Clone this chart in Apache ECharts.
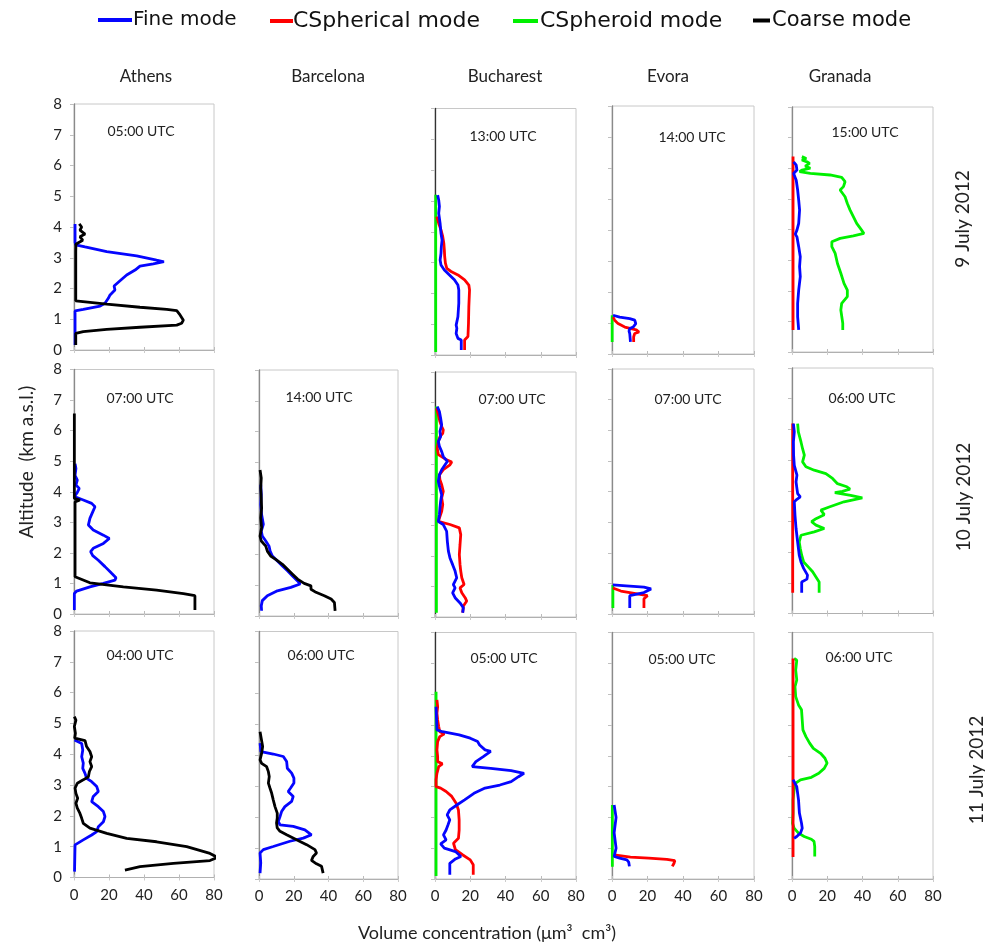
<!DOCTYPE html>
<html><head><meta charset="utf-8">
<script src="https://cdn.jsdelivr.net/npm/echarts@6/dist/echarts.min.js"></script>
<style>html,body{margin:0;padding:0;background:#fff}#c{width:985px;height:945px}</style>
</head><body><div id="c"></div>
<script>
// ---------- labels ----------
const cities = ['Athens', 'Barcelona', 'Bucharest', 'Evora', 'Granada'];
const dates = ['9 July 2012', '10 July 2012', '11 July 2012'];
const modes = ['Fine mode', 'CSpherical mode', 'CSpheroid mode', 'Coarse mode'];
const xTickValues = [0, 20, 40, 60, 80];
const yTickValues = [0, 1, 2, 3, 4, 5, 6, 7, 8];
const yAxisTitle = 'Altitude  (km a.s.l.)';
const xAxisTitle = 'Volume concentration (\u03bcm\u00b3  cm\u00b3)';

// ---------- data: [volume concentration, altitude km] ----------
// 9 July 2012
const athens9Time = '05:00 UTC';
const athens9Fine = [[0.6,4.1],[0.6,3.5],[1.0,3.42],[6.3,3.35],[18.7,3.2],[35.8,3.06],[47.2,2.92],[51.4,2.87],[45.3,2.8],[37.7,2.73],[34.9,2.6],[35.8,2.54],[30.1,2.44],[26.3,2.25],[22.9,2.08],[23.4,1.95],[20.6,1.79],[19.6,1.68],[17.7,1.52],[14.9,1.43],[5.3,1.32],[0.6,1.27],[0.6,0.16]];
const athens9Coarse = [[3.0,4.1],[4.4,4.0],[3.4,3.9],[6.3,3.77],[3.4,3.68],[5.0,3.57],[2.5,3.49],[1.1,3.44],[1.0,3.2],[1.0,1.6],[18.7,1.49],[37.7,1.39],[53.0,1.32],[58.7,1.28],[60.6,1.14],[62.5,0.97],[61.5,0.87],[58.7,0.81],[37.7,0.74],[18.7,0.67],[5.3,0.6],[1.0,0.54],[1.0,0.16]];

const bucharest9Time = '13:00 UTC';
const bucharest9Fine = [[1.5,5.19],[2.1,5.03],[2.5,4.82],[2.1,4.6],[2.9,4.27],[3.4,3.95],[4.0,3.73],[3.6,3.52],[3.4,3.3],[2.9,3.08],[3.4,2.92],[5.3,2.76],[8.2,2.6],[11.0,2.44],[13.0,2.27],[13.5,2.11],[13.5,1.68],[13.0,1.24],[12.0,0.97],[12.4,0.87],[12.0,0.7],[13.0,0.54],[14.9,0.49],[14.9,0.16]];
const bucharest9Spherical = [[1.0,4.49],[2.1,4.27],[3.4,4.06],[4.4,3.84],[5.0,3.63],[5.3,3.41],[5.5,3.19],[5.9,2.98],[6.7,2.81],[9.1,2.71],[13.0,2.6],[16.8,2.44],[19.2,2.27],[19.6,2.11],[19.2,1.57],[19.0,1.03],[18.7,0.6],[16.8,0.49],[16.8,0.16]];
const bucharest9Spheroid = [[0.4,5.2],[0.4,0.1]];

const evora9Time = '14:00 UTC';
const evora9Fine = [[0.6,1.25],[4.3,1.19],[10.0,1.14],[12.8,1.09],[13.4,0.98],[11.9,0.87],[10.0,0.82],[9.6,0.74],[10.0,0.66],[10.4,0.39]];
const evora9Spherical = [[0.6,1.19],[1.5,1.09],[3.4,0.98],[7.2,0.87],[13.7,0.78],[15.2,0.71],[12.8,0.66],[12.2,0.55],[12.2,0.39]];
const evora9Spheroid = [[0.1,1.25],[0.1,0.39]];

const granada9Time = '15:00 UTC';
const granada9Fine = [[0.9,6.21],[2.4,6.1],[2.8,5.94],[0.9,5.83],[2.4,5.61],[3.2,5.29],[3.8,4.96],[4.3,4.64],[3.8,4.2],[2.8,3.98],[1.9,3.85],[2.8,3.76],[3.8,3.44],[4.7,3.11],[4.3,2.79],[4.7,2.46],[3.8,2.02],[3.2,1.59],[3.2,1.15],[3.8,0.72]];
const granada9Spherical = [[0.6,6.38],[0.6,0.72]];
const granada9Spheroid = [[5.6,6.38],[8.1,6.32],[5.6,6.27],[8.5,6.21],[10.0,6.16],[7.5,6.07],[10.4,6.0],[5.6,5.94],[4.3,5.89],[10.4,5.83],[21.6,5.78],[28.2,5.7],[30.1,5.56],[29.2,5.4],[27.3,5.29],[30.1,5.07],[31.4,4.85],[32.9,4.64],[34.8,4.42],[36.7,4.2],[39.5,3.98],[40.8,3.87],[34.8,3.79],[27.3,3.71],[22.6,3.6],[22.6,3.44],[24.5,3.22],[25.8,2.89],[27.7,2.57],[29.5,2.24],[31.4,2.02],[31.4,1.81],[28.2,1.59],[27.7,1.37],[28.8,0.94],[28.8,0.72]];

// 10 July 2012
const athens10Time = '07:00 UTC';
const athens10Fine = [[0.6,4.92],[1.1,4.76],[0.6,4.54],[1.9,4.38],[1.1,4.22],[3.0,4.11],[1.9,3.98],[0.2,3.84],[5.3,3.73],[10.1,3.62],[12.0,3.51],[10.7,3.34],[9.1,3.13],[8.2,2.91],[11.0,2.75],[16.8,2.58],[20.2,2.47],[16.8,2.31],[11.0,2.15],[9.5,2.04],[10.7,1.91],[13.9,1.76],[17.7,1.55],[21.5,1.33],[24.0,1.19],[23.4,1.11],[16.8,1.0],[9.1,0.89],[1.5,0.75],[0.2,0.67],[0.2,0.13]];
const athens10Coarse = [[0.2,6.56],[0.2,3.78],[3.4,3.73],[0.6,3.67],[0.6,1.22],[9.1,1.02],[28.2,0.89],[47.2,0.78],[62.5,0.67],[69.1,0.6],[69.1,0.13]];

const barcelona10Time = '14:00 UTC';
const barcelona10Fine = [[1.0,4.27],[1.3,3.95],[1.0,3.62],[1.5,3.3],[2.5,2.98],[1.3,2.76],[1.9,2.6],[3.9,2.44],[5.8,2.27],[6.4,2.11],[7.7,1.95],[10.6,1.79],[13.5,1.63],[16.4,1.47],[19.3,1.3],[22.2,1.14],[23.7,1.04],[18.3,0.93],[10.6,0.82],[4.8,0.66],[1.9,0.5],[1.3,0.33],[1.5,0.17]];
const barcelona10Coarse = [[0.6,4.75],[1.3,4.49],[1.0,4.16],[1.3,3.84],[1.5,3.51],[1.0,3.19],[1.5,2.87],[0.6,2.6],[1.3,2.44],[3.9,2.27],[4.8,2.11],[6.7,1.95],[9.6,1.84],[13.5,1.68],[16.4,1.52],[19.3,1.36],[22.2,1.2],[26.0,1.06],[29.9,0.98],[29.9,0.87],[32.8,0.77],[37.6,0.66],[41.5,0.55],[43.4,0.44],[43.8,0.17]];

const bucharest10Time = '07:00 UTC';
const bucharest10Fine = [[1.3,6.87],[2.5,6.71],[3.2,6.49],[3.8,6.27],[2.8,6.06],[3.2,5.89],[1.9,5.73],[2.5,5.57],[3.8,5.4],[4.7,5.24],[7.0,5.08],[5.7,4.97],[3.8,4.81],[2.5,4.64],[1.9,4.43],[2.8,4.21],[3.8,3.99],[3.2,3.78],[2.8,3.56],[2.5,3.34],[1.9,3.12],[4.7,3.02],[6.6,2.8],[7.0,2.47],[7.6,2.15],[8.5,1.93],[10.0,1.71],[11.4,1.5],[12.3,1.28],[10.4,1.06],[11.4,0.95],[10.0,0.79],[11.4,0.63],[14.2,0.46],[16.1,0.3],[15.7,0.14]];
const bucharest10Spherical = [[0.9,6.82],[1.9,6.6],[2.8,6.38],[3.8,6.22],[4.7,6.11],[4.4,6.0],[2.8,5.89],[1.9,5.73],[1.3,5.51],[1.9,5.3],[6.6,5.13],[9.5,5.06],[8.5,4.97],[4.7,4.81],[2.5,4.64],[2.8,4.48],[3.8,4.32],[4.7,4.1],[3.8,3.89],[4.4,3.67],[3.8,3.45],[2.5,3.23],[1.9,3.12],[8.5,3.02],[13.8,2.91],[14.6,2.69],[14.2,2.36],[13.8,2.04],[14.2,1.71],[14.6,1.5],[15.2,1.28],[16.5,1.06],[14.2,0.95],[15.2,0.79],[17.1,0.63],[18.0,0.52],[16.1,0.36],[15.7,0.14]];
const bucharest10Spheroid = [[0.8,6.87],[0.8,0.14]];

const evora10Time = '07:00 UTC';
const evora10Fine = [[0.5,0.95],[8,0.92],[18,0.88],[22,0.82],[18,0.7],[10,0.6],[10,0.2]];
const evora10Spherical = [[0.5,0.85],[5,0.75],[15,0.65],[20,0.6],[18,0.5],[18,0.2]];
const evora10Spheroid = [[0.5,0.95],[0.5,0.2]];

const granada10Time = '06:00 UTC';
const granada10Fine = [[0.8,6.19],[1.3,5.92],[0.8,5.59],[0.9,5.16],[1.3,4.83],[2.8,4.51],[2.3,4.29],[2.8,4.07],[3.2,3.91],[4.7,3.8],[2.8,3.72],[1.3,3.64],[1.7,3.2],[2.3,2.77],[3.2,2.33],[4.1,1.9],[5.1,1.68],[6.6,1.47],[8.8,1.25],[8.5,1.12],[5.5,1.03],[5.5,0.68]];
const granada10Spherical = [[0.4,6.19],[0.4,0.68]];
const granada10Spheroid = [[3.2,6.19],[3.6,5.92],[5.1,5.59],[6.0,5.37],[7.0,5.16],[6.0,4.94],[7.9,4.78],[12.6,4.67],[19.2,4.56],[23.0,4.4],[25.8,4.23],[31.1,4.13],[32.9,4.05],[28.6,3.98],[24.3,3.94],[33.3,3.85],[39.9,3.77],[29.5,3.64],[21.1,3.47],[16.4,3.37],[18.3,3.22],[13.6,3.09],[11.1,2.99],[13.6,2.88],[18.3,2.77],[12.6,2.66],[5.1,2.55],[4.1,2.33],[4.7,2.12],[5.5,1.9],[6.6,1.68],[9.2,1.52],[11.7,1.36],[13.6,1.19],[15.4,1.03],[15.4,0.68]];

// 11 July 2012
const athens11Time = '04:00 UTC';
const athens11Fine = [[0.3,4.46],[4.4,4.35],[5.0,4.14],[4.4,3.92],[5.3,3.71],[5.0,3.54],[6.3,3.38],[7.2,3.22],[10.1,3.11],[13.0,2.95],[13.9,2.79],[11.0,2.63],[10.1,2.46],[13.9,2.3],[16.8,2.14],[17.7,1.98],[16.8,1.81],[13.9,1.65],[13.0,1.49],[10.1,1.38],[5.3,1.22],[0.6,1.06],[0.3,1.0],[0.3,0.19]];
const athens11Coarse = [[0.2,5.22],[1.1,5.11],[0.2,4.9],[0.8,4.68],[0.4,4.52],[6.3,4.44],[7.2,4.25],[9.1,4.09],[10.1,3.92],[9.1,3.76],[10.1,3.6],[8.8,3.44],[8.2,3.27],[5.3,3.17],[1.9,3.06],[0.6,2.9],[1.1,2.73],[2.1,2.57],[1.1,2.41],[1.9,2.25],[3.4,2.08],[4.4,1.92],[5.3,1.76],[9.1,1.6],[18.7,1.43],[30.1,1.27],[47.2,1.16],[64.4,1.0],[77.7,0.78],[82,0.65],[77.7,0.55],[56.8,0.46],[37.7,0.35],[29.1,0.24]];

const barcelona11Time = '06:00 UTC';
const barcelona11Fine = [[0.6,4.39],[1.1,4.12],[2.1,4.06],[8.2,4.04],[14.0,3.96],[15.9,3.8],[16.3,3.58],[18.8,3.42],[20.1,3.26],[20.1,3.1],[18.2,2.94],[16.8,2.83],[19.7,2.67],[18.8,2.51],[14.9,2.34],[13.0,2.18],[12.1,2.02],[11.1,1.86],[12.1,1.75],[19.7,1.7],[26.4,1.59],[30.2,1.43],[25.5,1.32],[17.8,1.22],[8.2,1.05],[2.5,0.95],[0.6,0.84],[1.0,0.52],[0.6,0.19]];
const barcelona11Coarse = [[0.6,4.76],[2.1,4.28],[1.5,4.06],[0.6,3.85],[1.5,3.74],[4.4,3.63],[5.4,3.47],[5.9,3.31],[5.4,3.1],[6.3,2.94],[7.3,2.77],[8.2,2.56],[9.2,2.34],[10.5,2.13],[10.5,1.97],[10.1,1.81],[10.5,1.65],[12.1,1.54],[15.9,1.43],[21.6,1.27],[27.4,1.11],[32.2,0.95],[33.1,0.84],[31.2,0.73],[30.2,0.6],[33.1,0.49],[36.0,0.41],[36.9,0.19]];

const bucharest11Time = '05:00 UTC';
const bucharest11Fine = [[0.6,5.59],[1.1,4.84],[4.2,4.78],[13.7,4.68],[20.0,4.57],[24.2,4.46],[25.3,4.35],[28.4,4.19],[31.6,4.14],[27.4,3.97],[23.2,3.81],[21.1,3.65],[31.6,3.59],[43.2,3.52],[50.5,3.43],[47.4,3.32],[43.2,3.16],[36.8,3.05],[28.4,2.95],[22.1,2.78],[16.8,2.57],[12.6,2.41],[8.4,2.24],[6.9,2.08],[8.4,1.92],[7.4,1.76],[6.3,1.59],[4.8,1.43],[6.3,1.27],[3.2,1.14],[5.3,1.0],[11.6,0.89],[14.7,0.73],[11.6,0.65],[8.4,0.51],[8.4,0.14]];
const bucharest11Spherical = [[1.1,5.81],[1.5,5.59],[1.1,5.38],[1.5,5.16],[2.1,4.95],[2.7,4.78],[5.3,4.71],[2.7,4.62],[1.5,4.46],[1.1,4.19],[1.5,3.97],[1.5,3.81],[4.2,3.74],[2.1,3.65],[1.1,3.43],[0.6,3.22],[0.6,3.0],[3.2,2.95],[6.3,2.84],[9.5,2.68],[12.0,2.46],[13.3,2.24],[13.7,1.92],[13.7,1.59],[13.3,1.32],[10.5,1.16],[11.6,0.95],[15.8,0.78],[20.0,0.62],[21.7,0.46],[21.7,0.14]];
const bucharest11Spheroid = [[0.6,6.08],[0.6,0.1]];

const evora11Time = '05:00 UTC';
const evora11Fine = [[1.2,2.4],[2.3,2.0],[1.2,1.5],[2.3,1.0],[1.2,0.73],[4.3,0.68],[8.4,0.62],[9.4,0.55],[9.8,0.41]];
const evora11Spherical = [[1.2,0.78],[10.4,0.71],[20.7,0.68],[30.9,0.64],[35.4,0.6],[35.0,0.52],[34.0,0.41]];
const evora11Spheroid = [[0.2,2.4],[0.2,0.4]];

const granada11Time = '06:00 UTC';
const granada11Fine = [[0.6,3.22],[1.7,3.16],[2.7,3.0],[3.7,2.57],[4.2,2.14],[5.4,1.81],[5.8,1.65],[4.8,1.49],[2.7,1.38],[1.2,1.32]];
const granada11Spherical = [[0.6,7.16],[0.6,0.71]];
const granada11Spheroid = [[1.2,7.16],[2.7,7.1],[2.1,6.78],[2.7,6.46],[1.7,6.24],[2.1,5.92],[3.7,5.65],[5.4,5.49],[5.8,5.16],[6.2,4.84],[7.9,4.62],[10.0,4.41],[12.1,4.24],[16.2,4.08],[18.7,3.92],[19.9,3.76],[18.3,3.59],[15.2,3.43],[11.0,3.3],[4.8,3.22],[2.1,3.11],[1.2,2.89],[0.6,2.57],[0.6,2.14],[0.3,1.81],[1.2,1.65],[3.7,1.49],[6.9,1.38],[11.0,1.29],[12.5,1.22],[12.9,1.05],[12.9,0.73]];

// ---------- panels (row = date index, col = city index) ----------
const panels = [
  {row:0, col:0, time:athens9Time, fine:athens9Fine, coarse:athens9Coarse},
  {row:0, col:2, time:bucharest9Time, fine:bucharest9Fine, spherical:bucharest9Spherical, spheroid:bucharest9Spheroid},
  {row:0, col:3, time:evora9Time, fine:evora9Fine, spherical:evora9Spherical, spheroid:evora9Spheroid},
  {row:0, col:4, time:granada9Time, fine:granada9Fine, spherical:granada9Spherical, spheroid:granada9Spheroid},
  {row:1, col:0, time:athens10Time, fine:athens10Fine, coarse:athens10Coarse},
  {row:1, col:1, time:barcelona10Time, fine:barcelona10Fine, coarse:barcelona10Coarse},
  {row:1, col:2, time:bucharest10Time, fine:bucharest10Fine, spherical:bucharest10Spherical, spheroid:bucharest10Spheroid},
  {row:1, col:3, time:evora10Time, fine:evora10Fine, spherical:evora10Spherical, spheroid:evora10Spheroid},
  {row:1, col:4, time:granada10Time, fine:granada10Fine, spherical:granada10Spherical, spheroid:granada10Spheroid},
  {row:2, col:0, time:athens11Time, fine:athens11Fine, coarse:athens11Coarse},
  {row:2, col:1, time:barcelona11Time, fine:barcelona11Fine, coarse:barcelona11Coarse},
  {row:2, col:2, time:bucharest11Time, fine:bucharest11Fine, spherical:bucharest11Spherical, spheroid:bucharest11Spheroid},
  {row:2, col:3, time:evora11Time, fine:evora11Fine, spherical:evora11Spherical, spheroid:evora11Spheroid},
  {row:2, col:4, time:granada11Time, fine:granada11Fine, spherical:granada11Spherical, spheroid:granada11Spheroid}
];

// ---------- layout (pixels) ----------
const colLeft = [74, 259, 435, 612, 792];
const colRight = [214, 398, 576, 754, 933];
// panel vertical extents (top = 8 km, bottom = 0 km), in panel order
const panelTop =    [104, 108.5, 106, 107,   369.5, 370, 372, 369, 368,   631, 631.5, 632.5, 632.5, 632.5];
const panelBottom = [350, 355,   354, 352,   614,   616, 617, 614, 613.5, 877.5, 879, 879, 879, 879];
// centre of the time annotation in each panel
const timeLabelX = [141, 503, 692, 865,   140, 319, 512, 688, 862,   140, 321, 504, 682, 859];
const timeLabelY = [131.5, 136.5, 137.5, 132.5,   398, 397.5, 399, 399, 398,   655, 655, 658, 659, 657];
const titleFont = 'Lato, "Open Sans", sans-serif';
const modeColors = {fine:'#0505ff', spherical:'#ff0000', spheroid:'#00f000', coarse:'#000000'};
const modeKeys = ['spheroid', 'spherical', 'fine', 'coarse'];
const modeName = {fine:modes[0], spherical:modes[1], spheroid:modes[2], coarse:modes[3]};

const grids = [], xAxes = [], yAxes = [], series = [], graphics = [];
panels.forEach((p, i) => {
  const left = colLeft[p.col], top = panelTop[i];
  const width = colRight[p.col] - left, height = panelBottom[i] - top;
  grids.push({left, top, width, height, show:true, borderColor:'#c8c8c8', borderWidth:1, backgroundColor:'transparent'});
  const showX = p.row === 2, showY = p.col === 0;
  xAxes.push({gridIndex:i, type:'value', min:0, max:80, interval:20, position:'bottom',
    axisLine:{show:true, lineStyle:{color:'#b0b0b0', width:1}},
    axisTick:{show:true, inside:true, length:3, lineStyle:{color:'#bbbbbb'}},
    splitLine:{show:false},
    axisLabel:{show:showX, color:'#222', fontSize:15, fontFamily:titleFont, margin:10,
      formatter: v => xTickValues.includes(v) ? String(v) : ''}});
  xAxes.push({gridIndex:i, type:'value', min:0, max:80, interval:20, position:'top',
    axisLine:{show:false}, axisTick:{show:true, inside:true, length:3, lineStyle:{color:'#cccccc'}},
    splitLine:{show:false}, axisLabel:{show:false}});
  yAxes.push({gridIndex:i, type:'value', min:0, max:8, interval:1, position:'left',
    axisLine:{show:true, lineStyle:{color: p.col === 2 ? '#333' : '#8a8a8a', width:1.3}},
    axisTick:{show:false},
    splitLine:{show:false},
    axisLabel:{show:showY, color:'#222', fontSize:15, fontFamily:titleFont, margin:12,
      formatter: v => yTickValues.includes(v) ? String(v) : ''}});
  yAxes.push({gridIndex:i, type:'value', min:0, max:8, interval:1, position:'right',
    axisLine:{show:false}, axisTick:{show:true, inside:true, length:4, lineStyle:{color:'#c0c0c0'}},
    splitLine:{show:false}, axisLabel:{show:false}});
  modeKeys.forEach(k => {
    if (!p[k]) return;
    series.push({type:'line', name:modeName[k], xAxisIndex:2*i, yAxisIndex:2*i, data:p[k],
      showSymbol:false, symbol:'none', clip:true, silent:true, animation:false,
      lineStyle:{color:modeColors[k], width:2.8}, itemStyle:{color:modeColors[k]}});
  });
  graphics.push({type:'text', x: timeLabelX[i], y: timeLabelY[i],
    style:{text:p.time, font:'14px ' + titleFont, fill:'#222', textAlign:'center', textVerticalAlign:'middle'}});
});

// column titles
const colTitleX = [146, 328, 505, 668, 840];
cities.forEach((c, j) => graphics.push({type:'text', x: colTitleX[j], y: 77,
  style:{text:c, font:'17px ' + titleFont, fill:'#222', textAlign:'center', textVerticalAlign:'middle'}}));
// row titles (rotated)
const rowTitleY = [219, 497, 770];
const rowTitleX = [963, 964, 977];
dates.forEach((d, r) => graphics.push({type:'text', x: rowTitleX[r], y: rowTitleY[r], rotation: Math.PI/2,
  style:{text:d, font:'19px ' + titleFont, fill:'#222', textAlign:'center', textVerticalAlign:'middle'}}));
graphics.push({type:'text', x:27, y:462, rotation:Math.PI/2,
  style:{text:yAxisTitle, font:'19px ' + titleFont, fill:'#222', textAlign:'center', textVerticalAlign:'middle'}});
graphics.push({type:'text', x:487, y:933,
  style:{text:xAxisTitle, font:'18px ' + titleFont, fill:'#222', textAlign:'center', textVerticalAlign:'middle'}});

const legendFont = '"DejaVu Sans", sans-serif';
const legendSpec = [
  {name:modes[0], left:93, w:34, fs:20, pad:-4},
  {name:modes[1], left:265, w:23, fs:22, pad:-5},
  {name:modes[2], left:508, w:25, fs:22, pad:-3},
  {name:modes[3], left:748, w:17, fs:21, pad:-3}
];
const legends = legendSpec.map(l => ({data:[l.name], left:l.left, top:5, itemWidth:l.w, itemHeight:4, itemGap:4,
  icon:'rect', selectedMode:false, textStyle:{fontSize:l.fs, fontFamily:legendFont, color:'#111', padding:[0,0,0,l.pad]}}));

const chart = echarts.init(document.getElementById('c'), null, {renderer:'canvas'});
chart.setOption({
  animation:false,
  backgroundColor:'#ffffff',
  legend: legends,
  grid: grids, xAxis: xAxes, yAxis: yAxes, series: series, graphic: graphics
});
</script>
</body></html>
